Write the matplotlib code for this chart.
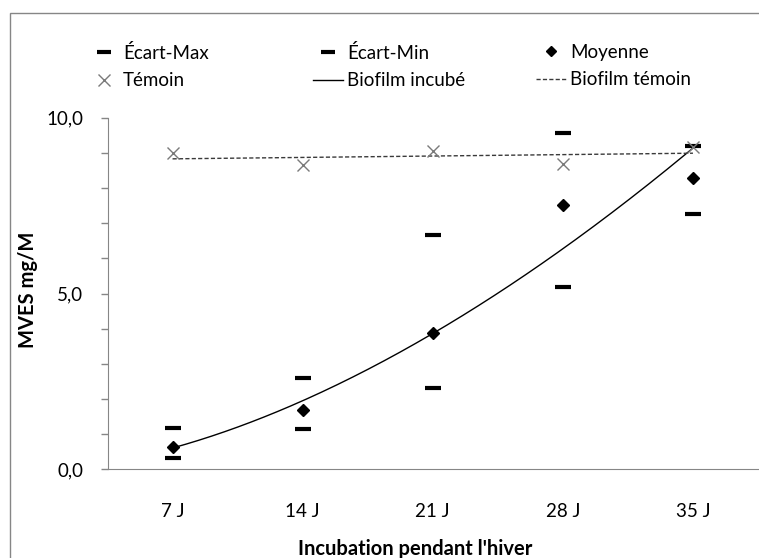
import matplotlib
matplotlib.use("Agg")
import matplotlib.pyplot as plt
import numpy as np
from matplotlib.lines import Line2D
from matplotlib.patches import Rectangle
from matplotlib.ticker import MultipleLocator, FixedLocator

plt.rcParams['font.family'] = ['Lato', 'DejaVu Sans']

# data
categories = ['7 J', '14 J', '21 J', '28 J', '35 J']
ecart_max = [1.17, 2.61, 6.66, 9.57, 9.19]
ecart_min = [0.31, 1.14, 2.32, 5.18, 7.25]
moyenne = [0.64, 1.69, 3.89, 7.51, 8.28]
temoin = [8.99, 8.65, 9.06, 8.67, 9.18]

GREY = '#868686'
FS = 13.5
FS_TITLE = 14.5

W, H = 759, 558
fig = plt.figure(figsize=(W / 100, H / 100), dpi=100)
ax = fig.add_axes([107.5 / W, 1 - 469.3 / H, 650.5 / W, 351.6 / H])

x = np.arange(1, len(categories) + 1)

# trendlines as excel draws them: power fit for the mean, linear for the control
b, ln_a = np.polyfit(np.log(x), np.log(moyenne), 1)
xs = np.linspace(1, len(categories), 200)
ax.plot(xs, np.exp(ln_a) * xs ** b, color='black', lw=1, zorder=2)
m, c = np.polyfit(x, temoin, 1)
ax.plot(xs, m * xs + c, color='#3a3a3a', lw=1, linestyle=(0, (3, 1.6)), zorder=2)

ax.plot(x, ecart_max, ls='none', marker='_', ms=12, mew=3, color='black', zorder=3)
ax.plot(x, ecart_min, ls='none', marker='_', ms=12, mew=3, color='black', zorder=3)
ax.plot(x, moyenne, ls='none', marker='D', ms=6.3, color='black', zorder=4)
ax.plot(x, temoin, ls='none', marker='x', ms=9, mew=1, color='#7a7a7a', zorder=4)

ax.set_xlim(0.5, len(categories) + 0.5)
ax.set_ylim(0, 10)
ax.set_xticks(x)
ax.set_xticklabels(categories, fontsize=FS)
ax.yaxis.set_major_locator(FixedLocator([0, 5, 10]))
ax.yaxis.set_minor_locator(MultipleLocator(1))
ax.set_yticklabels(['0,0', '5,0', '10,0'], fontsize=FS)
ax.tick_params(axis='x', length=0, pad=24)
ax.tick_params(axis='y', which='both', length=5, color=GREY, width=1, pad=12.5)

for side in ('top', 'right'):
    ax.spines[side].set_visible(False)
for side in ('left', 'bottom'):
    ax.spines[side].set_color(GREY)

ax.set_xlabel("Incubation pendant l'hiver", fontsize=FS_TITLE, fontweight='bold')
ax.xaxis.set_label_coords(0.473, -0.2267)
ax.xaxis.label.set_va('center')
ax.set_ylabel('MVES mg/M', fontsize=FS_TITLE, fontweight='bold')
ax.yaxis.set_label_coords(-0.122, 0.51)
ax.yaxis.label.set_va('center')

# legend, three columns of two rows
dash = dict(ls='none', marker='_', ms=10, mew=3, color='black')
columns = [
    ([Line2D([], [], **dash),
      Line2D([], [], ls='none', marker='x', ms=8, mew=1, color='#7a7a7a')],
     ['Écart-Max', 'Témoin'], 89),
    ([Line2D([], [], **dash),
      Line2D([], [], color='black', lw=1)],
     ['Écart-Min', 'Biofilm incubé'], 313),
    ([Line2D([], [], ls='none', marker='D', ms=5, color='black'),
      Line2D([], [], color='#3a3a3a', lw=1, linestyle=(0, (3, 1.6)))],
     ['Moyenne', 'Biofilm témoin'], 536),
]
for handles, labels, left in columns:
    leg = fig.legend(handles, labels, loc='upper left',
                     bbox_to_anchor=(left / W, 1 - 44 / H),
                     frameon=False, fontsize=FS, borderpad=0,
                     borderaxespad=0, handlelength=30 / 18.75,
                     handletextpad=4 / 18.75, labelspacing=0.55)

# chart area border
fig.patches.append(Rectangle((9.5 / W, -0.1), 1.2, 1.1 - 12.7 / H,
                             transform=fig.transFigure, fill=False,
                             edgecolor=GREY, lw=1))

fig.savefig('out.png', dpi=100)
